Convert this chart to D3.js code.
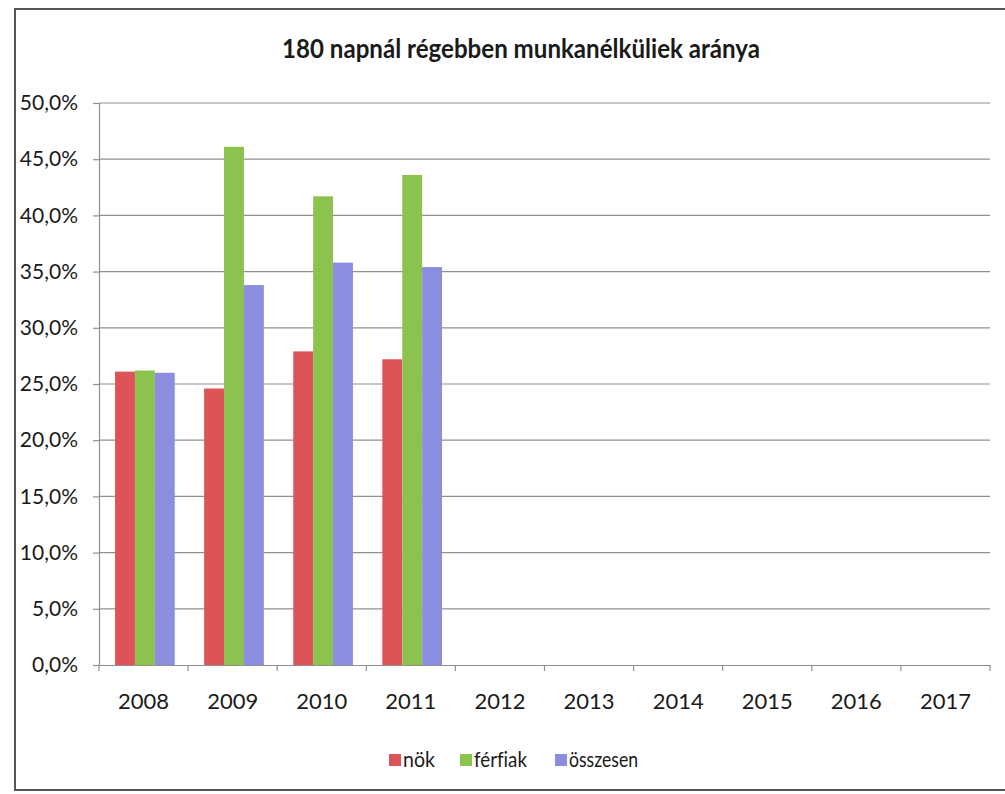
<!DOCTYPE html>
<html><head><meta charset="utf-8">
<script src="https://cdn.jsdelivr.net/npm/d3@7"></script>
<style>body{margin:0;background:#fff}svg{display:block}text{font-family:Lato,sans-serif;fill:#1a1a1a;font-variant-ligatures:none}</style>
</head><body><svg id="c" width="1005" height="794"></svg>
<script>
const title = "180 napnál régebben munkanélküliek aránya";
const years = ["2008","2009","2010","2011","2012","2013","2014","2015","2016","2017"];
const seriesNames = ["nök","férfiak","összesen"];
const nok      = [26.1, 24.6, 27.9, 27.2, null, null, null, null, null, null];
const ferfiak  = [26.2, 46.1, 41.7, 43.6, null, null, null, null, null, null];
const osszesen = [26.0, 33.8, 35.8, 35.4, null, null, null, null, null, null];
const colors = ["#dc5458","#8cc34f","#8a8de0"];
const yTicks = [0,5,10,15,20,25,30,35,40,45,50];

const svg = d3.select("#c");
const m = {l:99, r:990, t:103, b:665};
const series = [nok, ferfiak, osszesen];
const FONT = "Lato,sans-serif";

// frame
svg.append("rect").attr("x",15).attr("y",9).attr("width",1000).attr("height",781)
  .attr("fill","none").attr("stroke","#555").attr("stroke-width",2);

const x = d3.scaleBand().domain(years).range([m.l, m.r]).padding(0);
const x1 = d3.scaleBand().domain(seriesNames).range([x.bandwidth()*0.18, x.bandwidth()*0.85]).padding(0);
const y = d3.scaleLinear().domain([0,50]).range([m.b, m.t]);

// gridlines
svg.append("g").selectAll("line").data(yTicks.filter(d=>d>0)).join("line")
  .attr("x1",m.l).attr("x2",m.r).attr("y1",d=>y(d)).attr("y2",d=>y(d))
  .attr("stroke","#909090").attr("stroke-width",1.2);

// y axis
const fmt = d => d.toFixed(1).replace(".",",") + "%";
const ya = svg.append("g").attr("transform",`translate(${m.l},0)`)
  .call(d3.axisLeft(y).tickValues(yTicks).tickFormat(fmt).tickSize(6).tickPadding(15));
ya.select(".domain").attr("stroke","#909090").attr("stroke-width",1.2);
ya.selectAll(".tick line").attr("stroke","#909090").attr("stroke-width",1.2);
ya.selectAll(".tick text").attr("font-size",21).attr("fill","#1a1a1a").style("font-family",FONT);

// bars
const groups = svg.append("g").selectAll("g").data(years).join("g")
  .attr("transform",d=>`translate(${x(d)},0)`);
groups.selectAll("rect").data((d,i)=>series.map((s,k)=>({k, v:s[i]})).filter(o=>o.v!=null)).join("rect")
  .attr("x",o=>x1(seriesNames[o.k])).attr("width",x1.bandwidth())
  .attr("y",o=>y(o.v)).attr("height",o=>y(0)-y(o.v)).attr("fill",o=>colors[o.k]);

// x axis
const xa = svg.append("g").attr("transform",`translate(0,${m.b})`)
  .call(d3.axisBottom(x).tickSize(0));
xa.select(".domain").attr("stroke","#909090").attr("stroke-width",1.2);
xa.selectAll(".tick text").attr("font-size",22).attr("fill","#1a1a1a").style("font-family",FONT)
  .attr("y",44).attr("dy",null);
const edges = years.map(d=>x(d)).concat([m.r]);
svg.append("g").selectAll("line").data(edges).join("line")
  .attr("x1",d=>d).attr("x2",d=>d).attr("y1",m.b).attr("y2",m.b+6)
  .attr("stroke","#909090").attr("stroke-width",1.2);

// title
svg.append("text").attr("x",521).attr("y",58).attr("text-anchor","middle")
  .attr("font-weight","bold").attr("font-size",27)
  .attr("textLength",478).attr("lengthAdjust","spacingAndGlyphs").text(title);

// legend
const lg = svg.append("g");
const lx = [389, 460, 555];
const lw = [32, 53, 69];
seriesNames.forEach((n,k)=>{
  lg.append("rect").attr("x",lx[k]).attr("y",754).attr("width",12).attr("height",12).attr("fill",colors[k]);
  lg.append("text").attr("x",lx[k]+14).attr("y",767).attr("font-size",22)
    .attr("textLength",lw[k]).attr("lengthAdjust","spacingAndGlyphs").text(n);
});
</script></body></html>
